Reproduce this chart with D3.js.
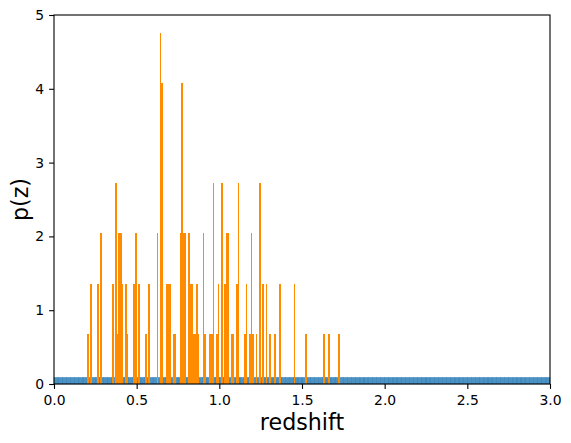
<!DOCTYPE html>
<html>
<head>
<meta charset="utf-8">
<script src="https://cdn.jsdelivr.net/npm/d3@7"></script>
<style>
  body { margin: 0; background: #fff; }
  svg text { font-family: "DejaVu Sans", sans-serif; fill: #000; }
</style>
</head>
<body>
<svg id="chart" width="571" height="443"></svg>
<script>
// flat p(z) of the prior, one value per bin of width 0.025 on 0..3
const blueBinWidth = 0.025;
const blueP = [
  0.09,0.09,0.09,0.09,0.09,0.09,0.09,0.09,0.09,0.09,0.09,0.09,0.09,0.09,0.09,0.09,0.09,0.09,0.09,0.09,
  0.09,0.09,0.09,0.09,0.09,0.09,0.09,0.09,0.09,0.09,0.09,0.09,0.09,0.09,0.09,0.09,0.09,0.09,0.09,0.09,
  0.09,0.09,0.09,0.09,0.09,0.09,0.09,0.09,0.09,0.09,0.09,0.09,0.09,0.09,0.09,0.09,0.09,0.09,0.09,0.09,
  0.09,0.09,0.09,0.09,0.09,0.09,0.09,0.09,0.09,0.09,0.09,0.09,0.09,0.09,0.09,0.09,0.09,0.09,0.09,0.09,
  0.09,0.09,0.09,0.09,0.09,0.09,0.09,0.09,0.09,0.09,0.09,0.09,0.09,0.09,0.09,0.09,0.09,0.09,0.09,0.09,
  0.09,0.09,0.09,0.09,0.09,0.09,0.09,0.09,0.09,0.09,0.09,0.09,0.09,0.09,0.09,0.09,0.09,0.09,0.09,0.09
];

// sample histogram: left edge of each non empty bin and its density
const orangeBinWidth = 0.01;
const orangeZ = [
  0.20, 0.22, 0.26, 0.28, 0.35, 0.37, 0.38, 0.39, 0.40, 0.41,
  0.43, 0.44, 0.48, 0.49, 0.51, 0.55, 0.57, 0.62, 0.64, 0.65,
  0.68, 0.69, 0.70, 0.72, 0.73, 0.76, 0.77, 0.78, 0.79, 0.81,
  0.82, 0.83, 0.84, 0.85, 0.86, 0.87, 0.90, 0.91, 0.94, 0.95,
  0.96, 0.98, 0.99, 1.01, 1.03, 1.04, 1.05, 1.07, 1.08, 1.10,
  1.11, 1.15, 1.16, 1.18, 1.19, 1.20, 1.22, 1.24, 1.26, 1.28,
  1.30, 1.33, 1.36, 1.45, 1.52, 1.63, 1.66, 1.72
];
const orangeP = [
  0.68, 1.36, 1.36, 2.04, 1.36, 2.72, 0.68, 2.04, 2.04, 1.36,
  1.36, 0.68, 1.36, 2.04, 1.36, 0.68, 1.36, 2.04, 4.76, 4.08,
  1.36, 1.36, 1.36, 0.68, 0.68, 2.04, 4.08, 2.04, 2.04, 2.04,
  1.36, 1.36, 0.68, 0.68, 1.36, 0.68, 2.04, 0.68, 0.68, 0.68,
  2.72, 0.68, 1.36, 2.72, 1.36, 2.04, 2.04, 0.68, 0.68, 1.36,
  2.72, 0.68, 1.36, 0.68, 2.04, 0.68, 0.68, 2.72, 1.36, 1.36,
  0.68, 0.68, 1.36, 1.36, 0.68, 0.68, 0.68, 0.68
];

const xTicks = [0, 0.5, 1.0, 1.5, 2.0, 2.5, 3.0];
const yTicks = [0, 1, 2, 3, 4, 5];

const svg = d3.select('#chart');
const margin = {left: 54, right: 21, top: 15, bottom: 59};
const width = +svg.attr('width');
const height = +svg.attr('height');

const x = d3.scaleLinear().domain([0, 3]).range([margin.left, width - margin.right]);
const y = d3.scaleLinear().domain([0, 5]).range([height - margin.bottom, margin.top]);

// blue bins first, orange drawn on top
svg.append('g')
  .selectAll('rect')
  .data(blueP)
  .enter()
  .append('rect')
  .attr('x', (d, i) => x(i * blueBinWidth))
  .attr('width', (d, i) => x((i + 1) * blueBinWidth) - x(i * blueBinWidth))
  .attr('y', d => y(d))
  .attr('height', d => y(0) - y(d))
  .attr('fill', '#1f77b4')
  .attr('fill-opacity', 0.8)
  .attr('stroke', '#1f77b4')
  .attr('stroke-opacity', 0.6)
  .attr('stroke-width', 0.5);

svg.append('g')
  .attr('shape-rendering', 'crispEdges')
  .selectAll('rect')
  .data(orangeZ)
  .enter()
  .append('rect')
  .attr('x', d => x(d))
  .attr('width', d => x(d + orangeBinWidth) - x(d))
  .attr('y', (d, i) => y(orangeP[i]))
  .attr('height', (d, i) => y(0) - y(orangeP[i]))
  .attr('fill', 'darkorange');

// axes, matplotlib look: outward ticks 3.5pt, labels 10pt
const xAxis = svg.append('g')
  .attr('transform', `translate(0,${y(0)})`)
  .call(d3.axisBottom(x).tickValues(xTicks).tickFormat(d3.format('.1f')).tickSize(4.9).tickPadding(6).tickSizeOuter(0));

const yAxis = svg.append('g')
  .attr('transform', `translate(${x(0)},0)`)
  .call(d3.axisLeft(y).tickValues(yTicks).tickFormat(d3.format('d')).tickSize(4.9).tickPadding(5).tickSizeOuter(0));

[xAxis, yAxis].forEach(g => {
  g.select('.domain').remove();
  g.selectAll('line').attr('stroke', '#000').attr('stroke-width', 1.1);
  g.selectAll('text').attr('font-size', 13.9).attr('font-family', '"DejaVu Sans", sans-serif').attr('fill', '#000');
});

// frame
svg.append('rect')
  .attr('x', x(0))
  .attr('y', y(5))
  .attr('width', x(3) - x(0))
  .attr('height', y(0) - y(5))
  .attr('fill', 'none')
  .attr('stroke', '#000')
  .attr('stroke-width', 1.1);

svg.append('text')
  .attr('x', (x(0) + x(3)) / 2)
  .attr('y', 430)
  .attr('text-anchor', 'middle')
  .attr('font-size', 22.2)
  .text('redshift');

svg.append('text')
  .attr('transform', `translate(28,${(y(0) + y(5)) / 2}) rotate(-90)`)
  .attr('text-anchor', 'middle')
  .attr('font-size', 22.2)
  .text('p(z)');
</script>
</body>
</html>
